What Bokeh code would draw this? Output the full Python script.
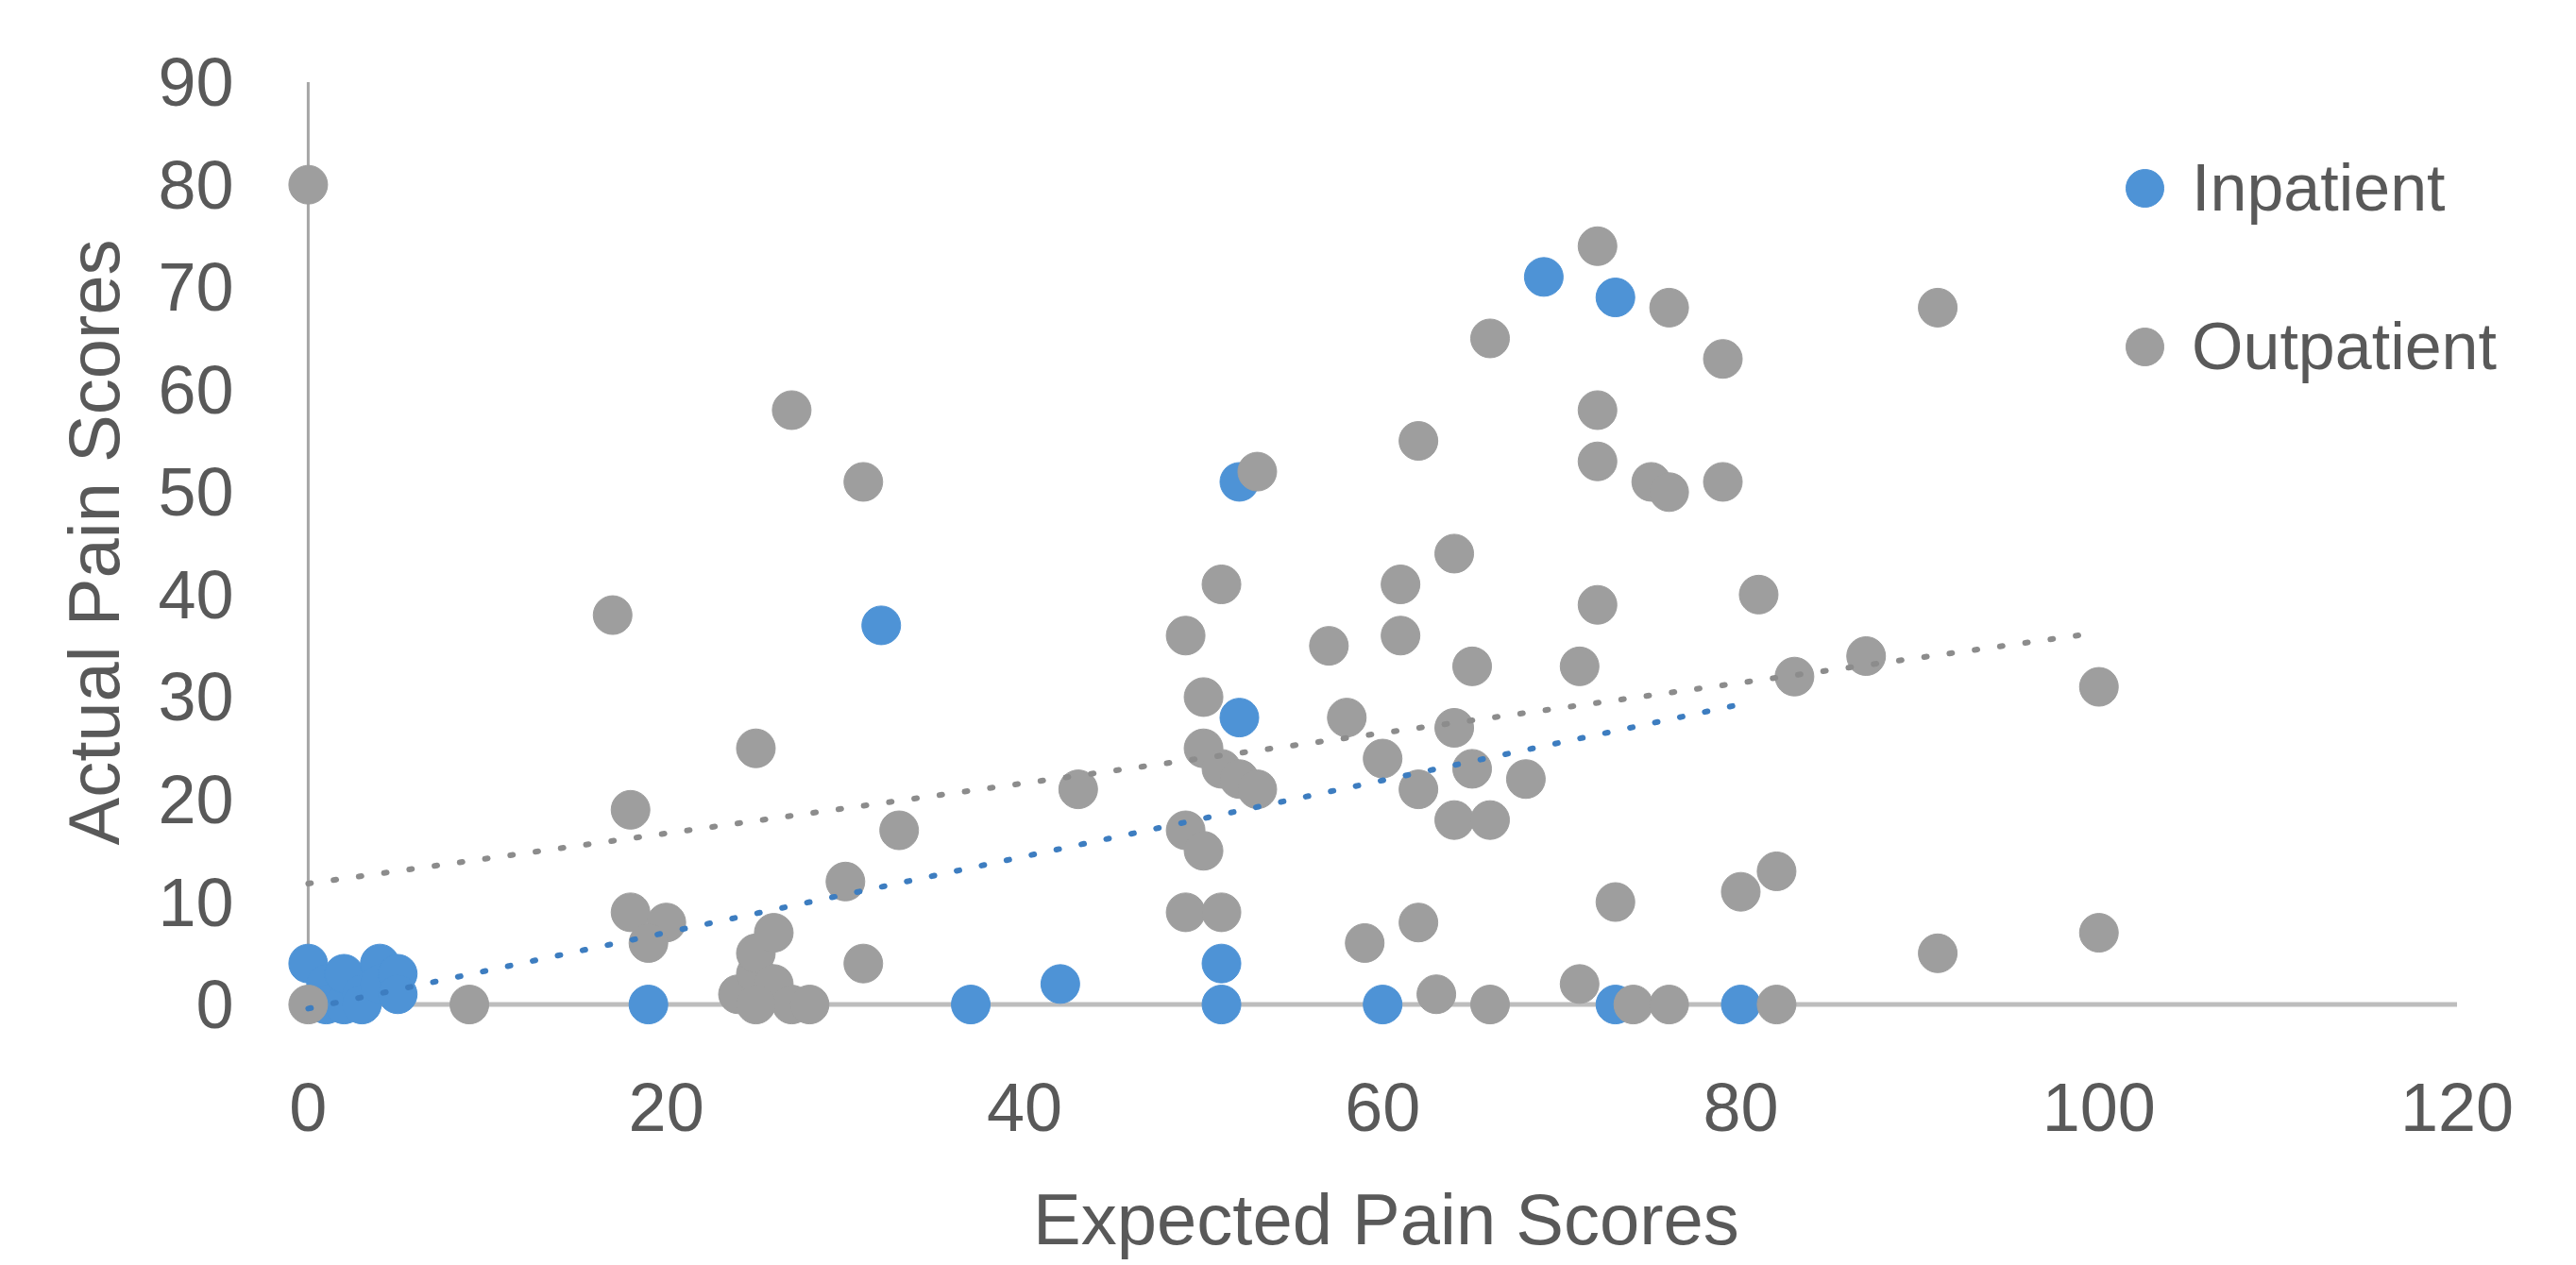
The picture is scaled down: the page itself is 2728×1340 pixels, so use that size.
from bokeh.plotting import figure
from bokeh.models import Range1d, FixedTicker, Legend, LegendItem
from bokeh.embed import file_html
from bokeh.resources import INLINE

# ---------------- data ----------------
series_names = ["Inpatient", "Outpatient"]
x_title = "Expected Pain Scores"
y_title = "Actual Pain Scores"

inpatient_x = [0, 1, 1, 2, 2, 3, 3, 4, 4, 5, 5, 19, 32, 37, 42, 51, 51, 52, 52,
               60, 69, 73, 73, 80]
inpatient_y = [4, 2, 0, 0, 3, 1, 0, 4, 2, 3, 1, 0, 37, 0, 2, 4, 0, 28, 51,
               0, 71, 69, 0, 0]

outpatient_x = [0, 0, 9, 17, 18, 18, 20, 19, 25, 27, 31, 30, 31, 33,
                24, 25, 25, 26, 26, 27, 25, 28, 43, 49, 51, 50, 50, 51, 52, 53,
                49, 50, 49, 51, 53, 57, 58, 59, 60, 61, 61, 62, 62, 62, 63,
                64, 64, 64, 65, 65, 66, 66, 66, 68, 71, 71, 72, 72, 72, 72,
                73, 74, 76, 76, 75, 76, 79, 79, 81, 80, 82, 82, 83, 87, 91,
                91, 100, 100]
outpatient_y = [80, 0, 0, 38, 19, 9, 8, 6, 25, 58, 51, 12, 4, 17,
                1, 3, 5, 7, 2, 0, 0, 0, 21, 36, 41, 30, 25, 23, 22, 21,
                17, 15, 9, 9, 52, 35, 28, 6, 24, 41, 36, 55, 21, 8, 1,
                44, 27, 18, 33, 23, 18, 65, 0, 22, 33, 2, 74, 58, 53, 39,
                10, 0, 0, 68, 51, 50, 63, 51, 40, 11, 13, 0, 32, 34, 68,
                5, 31, 7]

# linear trend lines (end points)
inpatient_trend_x = [0, 80]
inpatient_trend_y = [-0.4, 29.3]
outpatient_trend_x = [0, 100]
outpatient_trend_y = [11.8, 36.3]

x_ticks = [0, 20, 40, 60, 80, 100, 120]
y_ticks = [0, 10, 20, 30, 40, 50, 60, 70, 80, 90]

# ---------------- styles ----------------
BLUE = "#4E93D6"
GRAY = "#9E9E9E"
TEXT = "#595959"
FONT = "Liberation Sans"

p = figure(width=2728, height=1340, output_backend="svg", toolbar_location=None,
           x_range=Range1d(-3, 123.4), y_range=Range1d(-4, 94.2),
           min_border_left=269, min_border_right=62,
           min_border_top=41, min_border_bottom=233)
p.xgrid.visible = False
p.ygrid.visible = False
p.outline_line_color = None
p.background_fill_color = "white"
p.border_fill_color = "white"

for ax in (p.xaxis[0], p.yaxis[0]):
    ax.axis_line_color = None
    ax.major_tick_line_color = None
    ax.minor_tick_line_color = None
    ax.major_tick_in = 0
    ax.major_tick_out = 0
    ax.minor_tick_in = 0
    ax.minor_tick_out = 0
    ax.major_label_text_font = FONT
    ax.major_label_text_font_size = "72px"
    ax.major_label_text_color = TEXT
    ax.axis_label_text_font = FONT
    ax.axis_label_text_font_size = "76px"
    ax.axis_label_text_font_style = "normal"
    ax.axis_label_text_color = TEXT

p.xaxis[0].ticker = FixedTicker(ticks=x_ticks)
p.yaxis[0].ticker = FixedTicker(ticks=y_ticks)
p.xaxis[0].major_label_standoff = 40
p.yaxis[0].major_label_standoff = 22
p.xaxis[0].axis_label = x_title
p.yaxis[0].axis_label = y_title
p.xaxis[0].axis_label_standoff = 48
p.yaxis[0].axis_label_standoff = 22

# axis lines (horizontal at y=0, vertical at x=0)
p.segment(x0=[x_ticks[0]], y0=[y_ticks[0]], x1=[x_ticks[-1]], y1=[y_ticks[0]],
          line_color="#BDBDBD", line_width=5)
p.segment(x0=[x_ticks[0]], y0=[y_ticks[0]], x1=[x_ticks[0]], y1=[y_ticks[-1]],
          line_color="#A6A6A6", line_width=3)

r_in = p.scatter(inpatient_x, inpatient_y, size=41, marker="circle",
                 fill_color=BLUE, line_color=BLUE)
r_out = p.scatter(outpatient_x, outpatient_y, size=41, marker="circle",
                  fill_color=GRAY, line_color=GRAY)

p.line(inpatient_trend_x, inpatient_trend_y, line_color="#3D7DC0",
       line_width=6, line_dash="3 24", line_cap="round")
p.line(outpatient_trend_x, outpatient_trend_y, line_color="#8C8C8C",
       line_width=6, line_dash="3 24", line_cap="round")

legend = Legend(items=[LegendItem(label=series_names[0], renderers=[r_in]),
                       LegendItem(label=series_names[1], renderers=[r_out])],
                location=(1952, 690), orientation="vertical",
                glyph_width=100, glyph_height=100, label_standoff=-13,
                spacing=68, padding=0, margin=0,
                border_line_color=None, background_fill_alpha=0,
                label_text_font=FONT, label_text_font_size="70px",
                label_text_color=TEXT)
p.add_layout(legend)

open("out.html", "w").write(file_html(p, INLINE))
